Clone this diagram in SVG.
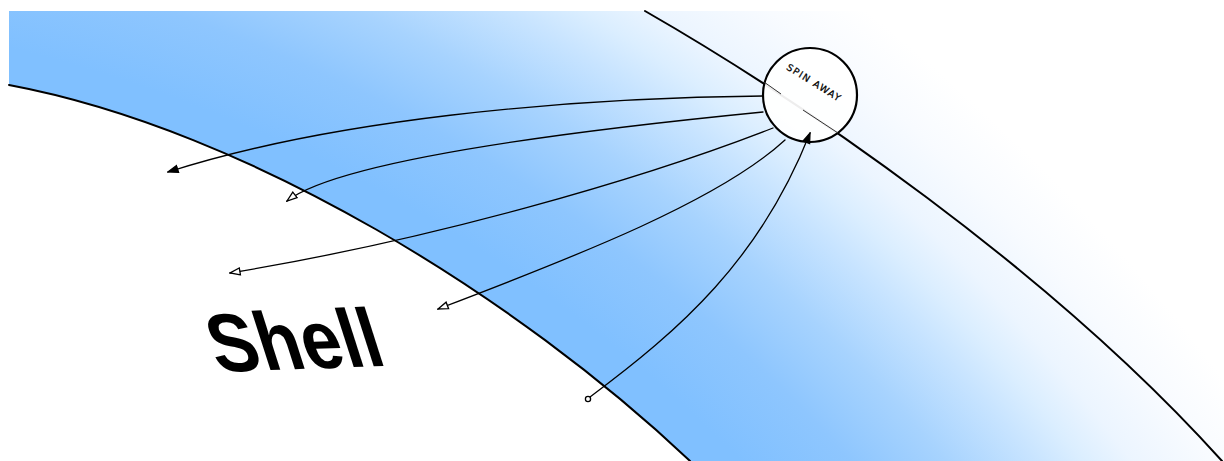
<svg xmlns="http://www.w3.org/2000/svg" width="1224" height="461" viewBox="0 0 1224 461">
  <defs>
    <radialGradient id="sky" gradientUnits="userSpaceOnUse" cx="-363" cy="1563" r="1980">
      <stop offset="0" stop-color="#80c0ff"/>
      <stop offset="0.788" stop-color="#80c0ff"/>
      <stop offset="0.828" stop-color="#8ec6fe"/>
      <stop offset="0.864" stop-color="#a7d3fe"/>
      <stop offset="0.899" stop-color="#c8e4ff"/>
      <stop offset="0.918" stop-color="#dbeeff"/>
      <stop offset="0.938" stop-color="#ecf5ff"/>
      <stop offset="0.970" stop-color="#f8fbff"/>
      <stop offset="1" stop-color="#ffffff"/>
    </radialGradient>
    <marker id="open" viewBox="0 0 12 10" refX="11" refY="5" markerWidth="12" markerHeight="10" markerUnits="userSpaceOnUse" orient="auto">
      <path d="M1,1.5 L11,5 L1,8.5 Z" fill="#fff" stroke="#000" stroke-width="1.3"/>
    </marker>
    <marker id="solid" viewBox="0 0 12 10" refX="11" refY="5" markerWidth="12" markerHeight="10" markerUnits="userSpaceOnUse" orient="auto">
      <path d="M1,1.5 L11,5 L1,8.5 Z" fill="#000" stroke="#000" stroke-width="1.3"/>
    </marker>
    <style>
      .edge { fill: none; stroke: #000; stroke-width: 2; stroke-linecap: round; }
      .conn { fill: none; stroke: #000; stroke-width: 1.3; stroke-linecap: round; }
      .inner { fill: none; stroke: #333; stroke-width: 1; }
      .label { font-family: "DejaVu Sans", sans-serif; font-size: 9.5px; letter-spacing: 1.3px; fill: #000; stroke: #000; stroke-width: 0.25; }
      .big { font-family: "Liberation Sans", Arial, sans-serif; font-weight: bold; font-size: 82px; fill: #000; }
    </style>
  </defs>

  <rect width="1224" height="461" fill="#fff"/>

  <g id="space">
    <path d="M9,11 H1224 V461 H690 C520,300 250,130 9,85 Z" fill="url(#sky)"/>
  </g>

  <g id="shell-boundary">
    <path class="edge" d="M9,85 C250,130 520,300 690,461"/>
  </g>

  <g id="orbit">
    <path class="edge" d="M645,11 C800,100 1050,270 1222,461"/>
  </g>

  <g id="shell-label">
    <text class="big" transform="matrix(0.87,-0.032,0.32,1,218,372)">Shell</text>
  </g>

  <g id="spin-away">
    <circle cx="810" cy="95" r="47" fill="#fff" fill-opacity="0.93" stroke="#000" stroke-width="2.2"/>
    <path class="inner" d="M764,82 L781,94"/>
    <path class="inner" d="M803,110 L838,133"/>
    <text class="label" transform="translate(814,83) rotate(32)" x="0" y="3" text-anchor="middle">SPIN AWAY</text>
  </g>

  <g id="connectors">
    <path class="conn" d="M763,96 C560,98 330,120 168,172" marker-end="url(#solid)"/>
    <path class="conn" d="M763,112 C580,130 340,160 287,201" marker-end="url(#open)"/>
    <path class="conn" d="M773,128 C640,180 430,240 230,273" marker-end="url(#open)"/>
    <path class="conn" d="M785,140 C720,200 580,255 438,309" marker-end="url(#open)"/>
    <path class="conn" d="M590,397 C680,330 760,260 810,133" marker-end="url(#solid)"/>
    <circle cx="588" cy="399" r="2.6" fill="#fff" stroke="#000" stroke-width="1.3"/>
  </g>
</svg>
